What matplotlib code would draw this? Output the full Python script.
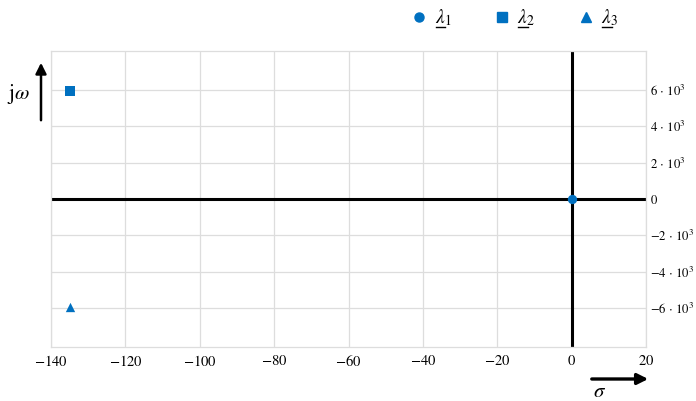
import matplotlib
matplotlib.use("Agg")
import matplotlib.pyplot as plt
from matplotlib.lines import Line2D
from matplotlib.patches import FancyArrowPatch

plt.rcParams['mathtext.fontset'] = 'stix'
plt.rcParams['font.family'] = 'STIXGeneral'

# eigenvalues (real part sigma, imaginary part omega)
names = [r'$\lambda_1$', r'$\lambda_2$', r'$\lambda_3$']
sigma = [0, -135, -135]
omega = [0, 5950, -5950]
markers = ['o', 's', '^']

xticks = [-140, -120, -100, -80, -60, -40, -20, 0, 20]
yticks = [-6000, -4000, -2000, 0, 2000, 4000, 6000]
ytick_labels = [r'$-6\,\cdot\,10^3$', r'$-4\,\cdot\,10^3$', r'$-2\,\cdot\,10^3$', r'$0$',
                r'$2\,\cdot\,10^3$', r'$4\,\cdot\,10^3$', r'$6\,\cdot\,10^3$']

blue = '#0070C0'

fig = plt.figure(figsize=(6.96, 4.01), dpi=100)
ax = fig.add_axes([0.0733, 0.1347, 0.855, 0.738])
ax.set_xlim(-140, 20)
ax.set_ylim(-8150, 8150)

ax.set_xticks(xticks)
ax.set_xticklabels([r'$%d$' % v if v >= 0 else r'$-%d$' % -v for v in xticks], fontsize=10.5)
ax.set_yticks(yticks)
ax.set_yticklabels(ytick_labels, fontsize=9.2)
ax.yaxis.tick_right()
ax.tick_params(axis='x', length=0, pad=5)
ax.tick_params(axis='y', length=0, pad=3)
ax.grid(True, color='#dddddd', lw=0.9)
ax.set_axisbelow(True)
for s in ax.spines.values():
    s.set_color('#dddddd')
    s.set_linewidth(0.9)

ax.axhline(0, color='black', lw=2.2, zorder=2)
ax.axvline(0, color='black', lw=2.2, zorder=2)

for x, y, m, n in zip(sigma, omega, markers, names):
    ax.scatter(x, y, marker=m, s=45, color=blue, label=n, zorder=3, linewidths=0)

handles = [Line2D([], [], ls='none', marker=m, color=blue, markersize=6.5) for m in markers]
leg = fig.legend(handles, names, loc='upper left', bbox_to_anchor=(0.563, 1.025), ncol=3,
                 frameon=False, fontsize=14, handletextpad=0.3, columnspacing=2.1, handlelength=1.0)

# underline the lambda of each legend entry (phasor notation)
fig.canvas.draw()
r = fig.canvas.get_renderer()
probe = fig.text(0, 0, r'$\lambda$', fontsize=14)
lam_w = probe.get_window_extent(r).width
probe.remove()
for t in leg.get_texts():
    bb = t.get_window_extent(r)
    y = bb.y0 + 1
    fig.add_artist(Line2D([bb.x0 + 1, bb.x0 + lam_w], [y, y], transform=None,
                          color='black', lw=1.0))

# axis direction arrows
W, H = 696, 401
fig.add_artist(FancyArrowPatch((41 / W, 1 - 123 / H), (41 / W, 1 - 60 / H),
               transform=fig.transFigure, arrowstyle='-|>', mutation_scale=16, lw=1.8, color='black'))
fig.text(18 / W, 1 - 94 / H, r'$\mathrm{j}\omega$', fontsize=15, ha='center', va='center')
fig.add_artist(FancyArrowPatch((589 / W, 1 - 379 / H), (651 / W, 1 - 379 / H),
               transform=fig.transFigure, arrowstyle='-|>', mutation_scale=16, lw=2.4, color='black'))
fig.text(600 / W, 1 - 392 / H, r'$\sigma$', fontsize=15, ha='center', va='center')

fig.savefig('out.png', dpi=100)
